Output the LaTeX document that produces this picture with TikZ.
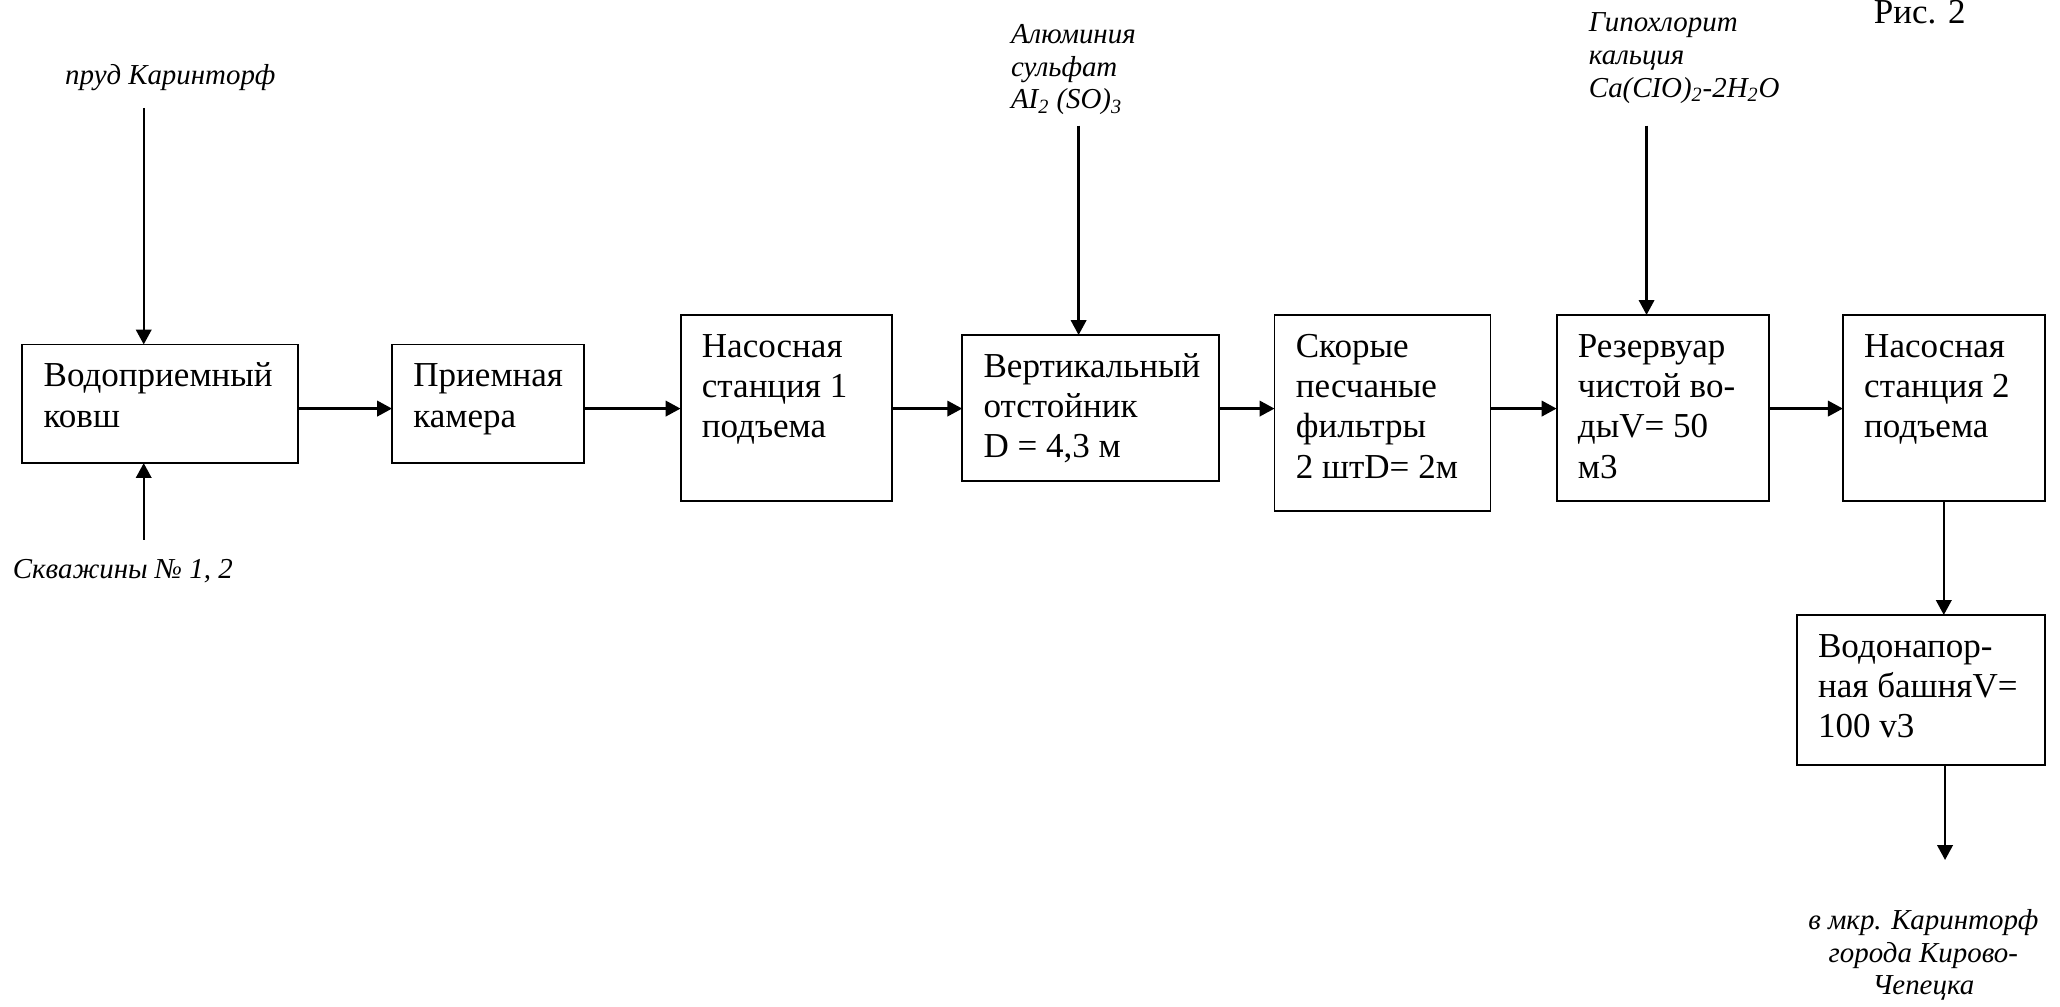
\documentclass[tikz,border=0pt]{standalone}
\usepackage{fontspec}
\setmainfont{Liberation Serif}
\usetikzlibrary{arrows.meta,fit}

\begin{document}
\begin{tikzpicture}[x=0.75pt,y=0.75pt,yscale=-1,xscale=1,
  box/.style={draw, line width=1.1pt, inner sep=0pt, outer sep=0pt},
  boxtext/.style={anchor=north west, inner sep=0pt, align=left, font=\fontsize{20}{23}\selectfont},
  srctext/.style={inner sep=0pt, font=\fontsize{16.5}{18.75}\selectfont\itshape},
  flow/.style={line width=1.4pt, -{Triangle[length=8.5pt,width=8.8pt]}}]
\useasboundingbox (0,0) rectangle (1568,766);
% process boxes
\node[box, fit={(17,262.2) (227,352.5)}] (b1) {};
\node[box, fit={(298.4,262.2) (444.4,352.5)}] (b2) {};
\node[box, fit={(518,239.7) (679.2,381.6)}] (b3) {};
\node[box, fit={(732.4,255) (927.7,366.4)}] (b4) {};
\node[box, fit={(970.1,239.7) (1134.5,388.7)}] (b5) {};
\node[box, fit={(1184.8,239.7) (1346.6,381.6)}] (b6) {};
\node[box, fit={(1402.7,239.7) (1556.4,381.6)}] (b7) {};
\node[box, fit={(1367.6,468.1) (1556.6,582.3)}] (b8) {};
% box texts
\node[boxtext] (t1) at ([xshift=12pt,yshift=7.9pt]b1.north west) {\strut Водоприемный\\ковш};
\node[boxtext] (t2) at ([xshift=12pt,yshift=7.9pt]b2.north west) {\strut Приемная\\камера};
\node[boxtext] (t3) at ([xshift=12pt,yshift=7.9pt]b3.north west) {\strut Насосная\\станция 1\\подъема};
\node[boxtext] (t4) at ([xshift=12pt,yshift=7.9pt]b4.north west) {\strut Вертикальный\\отстойник\\D = 4,3 м};
\node[boxtext] (t5) at ([xshift=12pt,yshift=7.9pt]b5.north west) {\strut Скорые\\песчаные\\фильтры\\2 штD= 2м};
\node[boxtext] (t6) at ([xshift=12pt,yshift=7.9pt]b6.north west) {\strut Резервуар\\чистой во-\\дыV= 50\\м3};
\node[boxtext] (t7) at ([xshift=12pt,yshift=7.9pt]b7.north west) {\strut Насосная\\станция 2\\подъема};
\node[boxtext] (t8) at ([xshift=12pt,yshift=7.9pt]b8.north west) {\strut Водонапор-\\ная башняV=\\100 v3};
% inputs and output
\node[srctext, anchor=base] (pond) at (129.7,64) {пруд Каринторф};
\node[srctext, anchor=base] (wells) at (93.5,440) {Скважины № 1, 2};
\node[srctext, anchor=north west, align=left] (alum) at (769.3,15.1) {\strut Алюминия\\сульфат\\AI\textsubscript{2} (SO)\textsubscript{3}};
\node[srctext, anchor=north west, align=left] (chlor) at (1209.2,6.4) {\strut Гипохлорит\\кальция\\Ca(CIO)\textsubscript{2}-2H\textsubscript{2}O};
\node[srctext, anchor=north, align=center] (city) at (1464,689.5) {\strut в мкр. Каринторф\\города Кирово-\\Чепецка};
\node[anchor=base west, inner sep=0pt, font=\fontsize{20}{23}\selectfont] (fig) at (1426,18) {Рис. 2};
% connectors
\coordinate (row) at (0,311);
\draw[flow] (b1.east |- row) -- (b2.west |- row);
\draw[flow] (b2.east |- row) -- (b3.west |- row);
\draw[flow] (b3.east |- row) -- (b4.west |- row);
\draw[flow] (b4.east |- row) -- (b5.west |- row);
\draw[flow] (b5.east |- row) -- (b6.west |- row);
\draw[flow] (b6.east |- row) -- (b7.west |- row);
\draw[flow] (b7.south) -- (b7.south |- b8.north);
\coordinate (pondend) at (109.4,82.1);
\draw[flow] (pondend) -- (pondend |- b1.north);
\coordinate (wellend) at (109.4,410.7);
\draw[flow] (wellend) -- (wellend |- b1.south);
\coordinate (alumend) at (821,95.7);
\draw[flow] (alumend) -- (alumend |- b4.north);
\coordinate (chlorend) at (1253.3,95.7);
\draw[flow] (chlorend) -- (chlorend |- b6.north);
\coordinate (outend) at (1480.5,654.6);
\draw[flow] (outend |- b8.south) -- (outend);
\end{tikzpicture}
\end{document}
